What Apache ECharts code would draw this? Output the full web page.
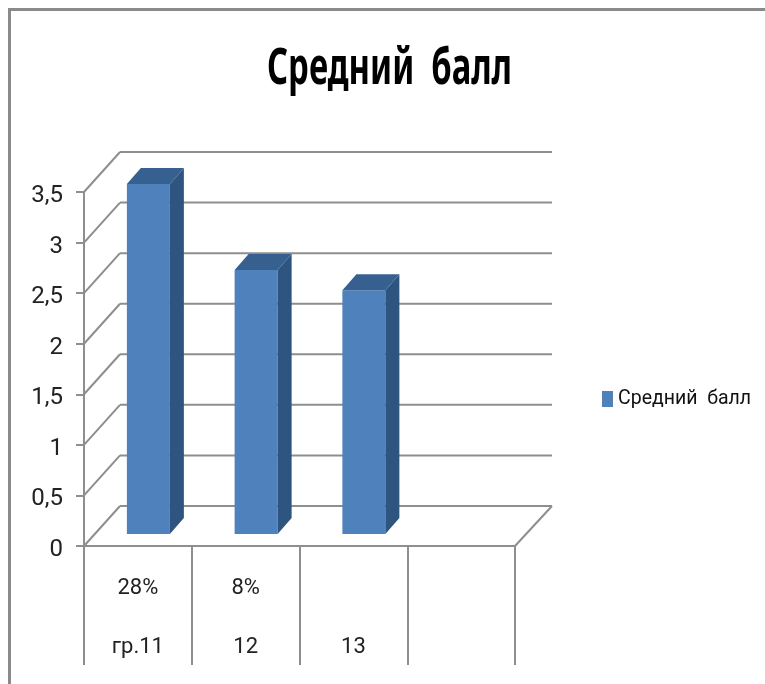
<!DOCTYPE html>
<html><head><meta charset="utf-8">
<style>html,body{margin:0;padding:0;background:#fff}#c{width:765px;height:684px}</style>
<script src="https://cdn.jsdelivr.net/npm/echarts@6/dist/echarts.min.js"></script>
</head><body><div id="c"></div>
<script>
const titleText = 'Средний  балл';
const seriesName = 'Средний  балл';
const percentLabels = ['28%', '8%', '', ''];
const groupLabels = ['гр.11', '12', '13', ''];
const scores = [3.45, 2.6, 2.4, null];
const yTicks = [0, 0.5, 1, 1.5, 2, 2.5, 3, 3.5];

const FONT = 'Roboto,"Noto Sans",sans-serif';
const GRID = '#8e8e8e';
const categories = percentLabels.map((p, i) => (p || ' ') + '\n' + (groupLabels[i] || ' '));
const chart = echarts.init(document.getElementById('c'), null, {renderer: 'canvas'});
chart.setOption({
  animation: false,
  backgroundColor: '#fff',
  legend: {data: [seriesName], left: 602, top: 389, padding: 0, itemWidth: 11, itemHeight: 16, itemGap: 6, icon: 'rect',
    textStyle: {fontFamily: FONT, fontSize: 19.5, color: '#111', padding: [0, 0, 0, 0]}},
  grid: {left: 84, top: 192, width: 431, height: 354},
  graphic: [
    {type: 'polyline', silent: true, shape: {points: [[9.5, 684], [9.5, 9.5], [765, 9.5]]},
     style: {stroke: '#8a8a8a', lineWidth: 3, fill: 'none'}},
    {type: 'text', silent: true, x: 267, y: 70, scaleX: 0.655, scaleY: 1,
     style: {text: titleText, font: 'bold 50px "Noto Sans",sans-serif', fill: '#000', align: 'left', verticalAlign: 'middle'}}
  ],
  xAxis: {type: 'category', data: categories, boundaryGap: true,
    axisLine: {lineStyle: {color: GRID, width: 2}},
    axisTick: {show: true, alignWithLabel: false, length: 119, lineStyle: {color: GRID, width: 2}},
    axisLabel: {interval: 0, margin: 13, lineHeight: 59, fontFamily: FONT, fontSize: 22, color: '#222'}},
  yAxis: {type: 'value', min: 0, max: 3.5, interval: 0.5,
    splitLine: {show: false},
    axisLine: {show: true, lineStyle: {color: GRID, width: 2}},
    axisTick: {show: true, length: 8, lineStyle: {color: GRID, width: 2}},
    axisLabel: {margin: 21, verticalAlign: 'top', lineHeight: 8, fontFamily: FONT, fontSize: 24, color: '#222',
      formatter: v => String(v).replace('.', ',')}},
  series: [
    {type: 'custom', name: 'walls', silent: true, z: 1, data: yTicks.map(v => [0, v]),
     renderItem(params, api) {
       const cs = params.coordSys, y = api.coord([0, api.value(1)])[1];
       const L = cs.x, R = cs.x + cs.width, dx = 36, dy = 40;
       const st = {stroke: GRID, lineWidth: 2, fill: 'none'};
       const kids = [
         {type: 'line', shape: {x1: L, y1: y, x2: L + dx, y2: y - dy}, style: st},
         {type: 'line', shape: {x1: L + dx, y1: y - dy, x2: R + dx + 1, y2: y - dy}, style: st}];
       if (api.value(1) === 0) kids.push({type: 'line', shape: {x1: R, y1: y, x2: R + dx + 1, y2: y - dy}, style: st});
       return {type: 'group', children: kids};
     }},
    {type: 'custom', name: seriesName, z: 5, itemStyle: {color: '#4F81BD'},
     data: scores.map((v, i) => [i, v]),
     renderItem(params, api) {
       if (api.value(1) == null || isNaN(api.value(1))) return null;
       const top = api.coord([api.value(0), api.value(1)]), base = api.coord([api.value(0), 0]);
       const w = 43, x0 = top[0] - 11, x1 = x0 + w, yt = top[1] - 13, yb = base[1] - 12, ox = 14, oy = 16;
       return {type: 'group', children: [
         {type: 'rect', shape: {x: x0, y: yt, width: w, height: yb - yt}, style: {fill: '#4F81BD'}},
         {type: 'polygon', shape: {points: [[x1, yt], [x1 + ox, yt - oy], [x1 + ox, yb - oy], [x1, yb]]}, style: {fill: '#2E5480'}},
         {type: 'polygon', shape: {points: [[x0, yt], [x0 + ox, yt - oy], [x1 + ox, yt - oy], [x1, yt]]}, style: {fill: '#35608F'}}
       ]};
     }}
  ]
});
</script></body></html>
